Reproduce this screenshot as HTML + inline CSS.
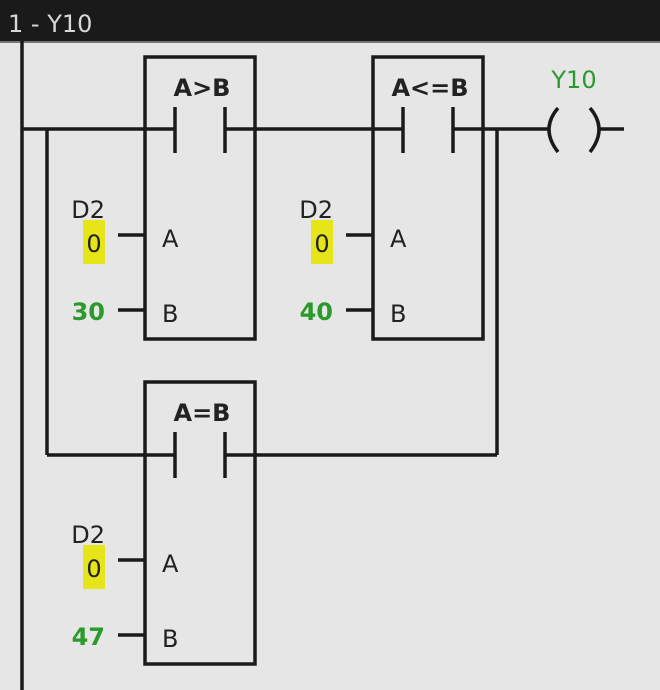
<!DOCTYPE html>
<html><head><style>
body{margin:0;width:660px;height:690px;background:#e6e6e6;overflow:hidden;font-family:"DejaVu Sans","Liberation Sans",sans-serif}
</style></head><body>
<svg width="660" height="690" xmlns="http://www.w3.org/2000/svg" style="position:absolute;left:0;top:0">
<rect x="0" y="0" width="660" height="41" fill="#1a1a1a"/>
<rect x="0" y="41" width="660" height="2" fill="#777"/>
<text x="8" y="32" font-size="24" fill="#d8d8d8" font-family="DejaVu Sans, sans-serif">1 - Y10</text>
<g stroke="#1a1a1a" stroke-width="3.5" fill="none">
<line x1="22" y1="41" x2="22" y2="690"/>
<line x1="22" y1="129" x2="175" y2="129"/>
<line x1="225" y1="129" x2="403" y2="129"/>
<line x1="453" y1="129" x2="548" y2="129"/>
<line x1="600" y1="129" x2="624" y2="129"/>
<line x1="47" y1="129" x2="47" y2="455"/>
<line x1="47" y1="455" x2="175" y2="455"/>
<line x1="225" y1="455" x2="497" y2="455"/>
<line x1="497" y1="129" x2="497" y2="455"/>
<rect x="145" y="57" width="110" height="282"/>
<rect x="373" y="57" width="110" height="282"/>
<rect x="145" y="382" width="110" height="282"/>
<line x1="175" y1="107" x2="175" y2="153"/><line x1="225" y1="107" x2="225" y2="153"/>
<line x1="403" y1="107" x2="403" y2="153"/><line x1="453" y1="107" x2="453" y2="153"/>
<line x1="175" y1="432" x2="175" y2="478"/><line x1="225" y1="432" x2="225" y2="478"/>
<line x1="118" y1="235" x2="145" y2="235"/><line x1="118" y1="310" x2="145" y2="310"/>
<line x1="346" y1="235" x2="373" y2="235"/><line x1="346" y1="310" x2="373" y2="310"/>
<line x1="118" y1="560" x2="145" y2="560"/><line x1="118" y1="635" x2="145" y2="635"/>
<path d="M558 108 Q540 129 558 152"/>
<path d="M590 108 Q608 129 590 152"/>
</g>
<g font-size="24" fill="#222">
<text x="202" y="96" text-anchor="middle" font-weight="bold">A&gt;B</text>
<text x="430" y="96" text-anchor="middle" font-weight="bold">A&lt;=B</text>
<text x="202" y="421" text-anchor="middle" font-weight="bold">A=B</text>
<text x="162" y="247">A</text><text x="162" y="322">B</text>
<text x="390" y="247">A</text><text x="390" y="322">B</text>
<text x="162" y="572">A</text><text x="162" y="647">B</text>
<text x="105" y="218" text-anchor="end">D2</text>
<text x="333" y="218" text-anchor="end">D2</text>
<text x="105" y="543" text-anchor="end">D2</text>
</g>
<rect x="83" y="220" width="22" height="44" fill="#e5e51a"/>
<rect x="311" y="220" width="22" height="44" fill="#e5e51a"/>
<rect x="83" y="545" width="22" height="44" fill="#e5e51a"/>
<g font-size="24" fill="#222">
<text x="94" y="252" text-anchor="middle">0</text>
<text x="322" y="252" text-anchor="middle">0</text>
<text x="94" y="577" text-anchor="middle">0</text>
</g>
<g font-size="24" fill="#2a9a2a" font-weight="bold">
<text x="105" y="320" text-anchor="end">30</text>
<text x="333" y="320" text-anchor="end">40</text>
<text x="105" y="645" text-anchor="end">47</text>
</g>
<text x="574" y="88" text-anchor="middle" font-size="24" fill="#2a9a2a">Y10</text>
</svg>
</body></html>
